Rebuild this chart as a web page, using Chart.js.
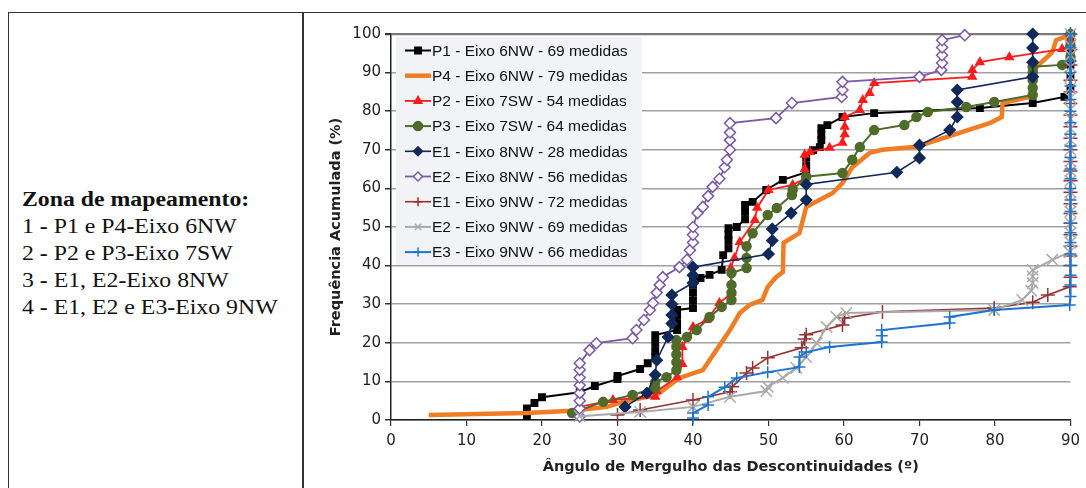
<!DOCTYPE html>
<html>
<head>
<meta charset="utf-8">
<script src="https://cdn.jsdelivr.net/npm/chart.js@4.4.0/dist/chart.umd.min.js"></script>
<style>
  html, body { margin: 0; padding: 0; background: #fff; }
  body { width: 1086px; height: 488px; position: relative; overflow: hidden; }
  .frame { position: absolute; left: 8px; top: 12px; width: 1090px; height: 490px; border-left: 1.5px solid #333; border-top: 1.5px solid #333; }
  .divider { position: absolute; left: 302px; top: 12px; width: 1.5px; height: 476px; background: #333; }
  .zona { position: absolute; left: 22px; top: 186px; font-family: "Liberation Serif", "Times New Roman", serif; font-size: 20.5px; line-height: 27px; color: #111; transform: scaleX(1.16); transform-origin: left top; white-space: nowrap; }
  .zona b { font-weight: bold; }
  #wrap { position: absolute; left: 310px; top: 14px; width: 776px; height: 474px; }
</style>
</head>
<body>
<div class="frame"></div>
<div class="divider"></div>
<div class="zona">
  <b>Zona de mapeamento:</b><br>
  1 <b>-</b> P1 e P4<b>-</b>Eixo 6NW<br>
  2 <b>-</b> P2 e P3<b>-</b>Eixo 7SW<br>
  3 <b>-</b> E1, E2<b>-</b>Eixo 8NW<br>
  4 <b>-</b> E1, E2 e E3<b>-</b>Eixo 9NW
</div>
<div id="wrap"><canvas id="chart"></canvas></div>
<script>
// values: angle (º) and cumulative frequency (%)
const p1Angle = [18, 18, 19, 20, 25, 27, 30, 30, 33, 34, 35, 35, 35, 35, 37.9, 37.9, 37.9, 37.9, 40, 40, 40, 40, 40, 41, 42.2, 43.8, 44, 44.7, 44.7, 44.7, 44.7, 45.8, 46.9, 46.9, 46.9, 47.9, 49.7, 51.9, 55, 55, 55, 55.9, 56.8, 57, 57, 57, 57.8, 59.8, 64, 78, 85, 89.2, 90, 90, 90, 90, 90, 90];
const p1Freq = [1, 3, 4.4, 5.9, 7.2, 8.8, 10.6, 11.4, 13.2, 14.7, 16.3, 18, 20, 22, 23.3, 25, 27, 28.5, 29, 31, 33, 35, 36.3, 36.8, 37.6, 38.9, 42.7, 44.5, 46.5, 48, 49.7, 50, 52, 54, 55.7, 56.5, 59.6, 62.2, 64.2, 66, 68.1, 69.9, 70.7, 72.5, 74, 75.6, 76.4, 78.5, 79.5, 80.8, 82.1, 83.7, 86, 89, 92, 95, 98, 100];

const p4Angle = [5, 18, 24, 28.6, 30.7, 35.2, 38.2, 41.3, 43.1, 44.9, 46.2, 47.5, 49.2, 49.9, 51, 51.9, 52, 54.1, 55, 58.5, 59.8, 61.1, 63.4, 65.1, 69.6, 75.3, 79.3, 80.9, 81, 84.6, 85.5, 87.6, 88.1, 89.2, 90];
const p4Freq = [1.3, 1.8, 2.4, 3.4, 4.7, 6.5, 10.9, 12.9, 18.1, 23.3, 27.7, 29.8, 31.1, 34.5, 37, 38.3, 45.9, 48.4, 55.2, 58.8, 61.4, 65.5, 69.2, 70, 70.8, 74.4, 76.9, 78.5, 82.1, 83.7, 91.5, 95.3, 98.4, 99.2, 100];

const p2Angle = [25, 29.4, 35, 35.2, 37.9, 38.6, 38.6, 40, 41.8, 43.5, 45.1, 45, 45.5, 46.2, 48.2, 48.5, 50, 53.2, 54.8, 54.8, 54.8, 55.5, 58.1, 59.8, 60.1, 60.1, 60.1, 62.1, 62.5, 63.4, 64, 77, 77, 78, 81.9, 88.9, 90, 90, 90];
const p2Freq = [3.4, 5.2, 6, 7.5, 11.1, 14.5, 18.9, 24.1, 25.9, 30.3, 32.9, 39.4, 42, 46.1, 51.8, 55, 59.6, 60.9, 62.5, 65, 68.7, 69.4, 70.5, 71.8, 74, 76, 78.5, 80.3, 82.9, 84.7, 87.3, 88.9, 90.7, 92.7, 94, 96.1, 97, 98.5, 100];

const p3Angle = [24, 28.1, 32, 35, 35, 36.5, 37.8, 37.8, 37.8, 37.8, 37.8, 39.2, 40.5, 42.2, 43.8, 45.1, 45.1, 45.1, 45.1, 47.1, 47.1, 47.1, 47.9, 49.9, 51.1, 53.1, 53.2, 55, 59.8, 61.1, 62.1, 64, 68, 69.6, 71.1, 76.2, 79.9, 85, 85, 85, 85, 85, 88.9, 90, 90, 90];
const p3Freq = [1.8, 4.7, 6.5, 8.3, 9.8, 11.1, 12.9, 15, 17, 19, 20.7, 21.5, 23.3, 26.7, 29.3, 31.1, 33, 35, 38.1, 39.4, 42, 45, 48.4, 53.1, 54.9, 58.3, 59.6, 63, 64, 67.4, 70.7, 75.1, 76.4, 78.5, 79.8, 81.1, 82.4, 84.2, 86, 88, 90, 91.5, 92, 94, 97, 100];

const e18Angle = [31, 33.9, 35, 35.2, 36.7, 37.2, 37.2, 37.2, 37.2, 40, 40, 40, 50, 50.5, 50.5, 53, 55, 55, 67, 70, 70, 74, 75, 75, 75, 85, 85, 85, 85];
const e18Freq = [3.4, 7, 11.7, 15.5, 21.5, 25, 27.2, 30, 32.4, 35.5, 37.5, 39.6, 43, 46.5, 49.5, 53.6, 57, 61, 64.2, 67.9, 71.2, 75.1, 78.5, 82.4, 85.5, 88.9, 92.7, 96.4, 100];

const e28Angle = [25, 25, 25, 25, 25, 25, 25, 25, 26.3, 27.2, 32, 32.5, 33.5, 34.3, 34.7, 35.2, 35.6, 36, 38.2, 39.2, 39.6, 40, 40, 40, 40.6, 41.3, 42, 42.6, 43.5, 44.2, 44.5, 44.9, 44.9, 44.9, 44.9, 51, 53.1, 59.7, 59.8, 59.8, 70, 72.9, 73, 73, 73, 73, 76];
const e28Freq = [0.9, 3, 5, 7, 9, 11, 13, 14.7, 18.1, 19.9, 21.2, 23.3, 25.9, 28.5, 30.3, 33, 35, 37, 39.6, 41.5, 44, 46, 48, 50, 53.6, 55.2, 58, 60.4, 62.5, 65.5, 67.4, 70, 72.5, 74.5, 76.9, 78.2, 82.1, 83.7, 85.5, 87.6, 88.9, 90.7, 92.5, 94.5, 96.5, 98.4, 99.7];

const e19Angle = [30, 33, 40, 44.9, 45.2, 47.1, 47.9, 49.9, 54.4, 54.8, 55, 59.8, 60.1, 65.1, 79.9, 85, 87, 89.9, 90, 90, 90, 90, 90, 90, 90, 90, 90, 90, 90, 90, 90, 90, 90, 90, 90, 90, 90, 90, 90, 90];
const e19Freq = [1.3, 2.6, 5.2, 7.3, 8.6, 12.2, 13.5, 16.1, 18.7, 21, 22.1, 24.6, 26.4, 28, 29, 30.5, 32.4, 34.5, 37, 40, 42.5, 45, 48, 51, 53.5, 56, 59, 62, 64.5, 67, 70, 73, 76, 79, 82, 85, 88, 92, 96, 100];

const e29Angle = [25, 33, 40, 44.9, 49.7, 49.9, 51.9, 53.7, 55, 56.4, 57.7, 59, 60.3, 79.9, 83.6, 84.8, 85, 85, 85, 87.6, 89.9, 90, 90, 90, 90, 90, 90, 90, 90, 90, 90, 90, 90, 90, 90, 90, 90, 90, 90, 90, 90, 90];
const e29Freq = [1, 2.1, 3.4, 6, 7.5, 8.6, 10.9, 13.5, 16.3, 19.9, 24.1, 26.7, 27.7, 28.5, 31.1, 33.5, 35.5, 37.2, 38.9, 41.5, 43.5, 46, 48.5, 51, 54, 56.5, 59, 62, 64.5, 67, 70, 72.5, 75.5, 78, 80.5, 83.5, 86, 89, 91.5, 94.5, 97, 100];

const e39Angle = [40, 40, 42, 42, 44.2, 45.8, 49.9, 54.1, 54.1, 55, 58.1, 65, 65, 65, 74, 74, 79.9, 89.9, 90, 90, 90, 90, 90, 90, 90, 90, 90, 90, 90, 90, 90, 90, 90, 90, 90, 90, 90, 90, 90, 90, 90, 90];
const e39Freq = [0.5, 1.8, 3.9, 6, 8.5, 10.9, 12.4, 13.7, 16.3, 17.6, 18.9, 20.2, 21.8, 23.3, 25.1, 26.7, 28.5, 29.8, 32, 35, 37.5, 40, 43, 46, 48.5, 51, 54, 57, 60, 62.5, 65, 68, 71, 74, 77, 80, 83, 86.5, 90, 93, 96.5, 100];

const seriesNames = [
  "P1 - Eixo 6NW - 69 medidas",
  "P4 - Eixo 6NW - 79 medidas",
  "P2 - Eixo 7SW - 54 medidas",
  "P3 - Eixo 7SW - 64 medidas",
  "E1 - Eixo 8NW - 28 medidas",
  "E2 - Eixo 8NW - 56 medidas",
  "E1 - Eixo 9NW - 72 medidas",
  "E2 - Eixo 9NW - 69 medidas",
  "E3 - Eixo 9NW - 66 medidas"
];
const xTicks = [0, 10, 20, 30, 40, 50, 60, 70, 80, 90];
const yTicks = [0, 10, 20, 30, 40, 50, 60, 70, 80, 90, 100];

function pts(a, f) {
  return a.map((x, i) => ({ x: x, y: f[i] }));
}

const styles = [
  { data: pts(p1Angle, p1Freq), color: "#000000", width: 2, style: "rect", r: 4.5, fill: "#000000" },
  { data: pts(p4Angle, p4Freq), color: "#f07c24", width: 4.5, style: "circle", r: 0, fill: "#f07c24" },
  { data: pts(p2Angle, p2Freq), color: "#ff1c1c", width: 1.8, style: "triangle", r: 4.5, fill: "#ff1c1c" },
  { data: pts(p3Angle, p3Freq), color: "#4f6b2a", width: 2, style: "circle", r: 4.5, fill: "#4f6b2a" },
  { data: pts(e18Angle, e18Freq), color: "#10285a", width: 1.6, style: "rectRot", r: 5.5, fill: "#10285a" },
  { data: pts(e28Angle, e28Freq), color: "#7a5aa8", width: 1.8, style: "rectRot", r: 5.5, fill: "#ffffff" },
  { data: pts(e19Angle, e19Freq), color: "#953234", width: 1.6, style: "cross", r: 7, fill: "#953234" },
  { data: pts(e29Angle, e29Freq), color: "#aaaaaa", width: 2, style: "crossRot", r: 8, fill: "#aaaaaa" },
  { data: pts(e39Angle, e39Freq), color: "#1f74cc", width: 2, style: "cross", r: 6, fill: "#1f74cc" }
];

const datasets = styles.map((s, i) => ({
  label: seriesNames[i],
  data: s.data,
  showLine: true,
  clip: 12,
  borderColor: s.color,
  borderWidth: s.width,
  pointStyle: s.style,
  pointRadius: s.r,
  pointBackgroundColor: s.fill,
  pointBorderColor: s.color,
  pointBorderWidth: 1.5,
  tension: 0,
  order: styles.length - i
}));

// legend box drawn inside the plot, as in the original spreadsheet chart
const boxLegend = {
  id: "boxLegend",
  afterDatasetsDraw(chart) {
    const ctx = chart.ctx;
    ctx.save();
    ctx.fillStyle = "#f2f3f6";
    ctx.fillRect(86, 23, 246, 228);
    chart.data.datasets.forEach((ds, i) => {
      const y = 36.5 + i * 25.2;
      ctx.strokeStyle = ds.borderColor;
      ctx.lineWidth = ds.borderWidth;
      ctx.beginPath();
      ctx.moveTo(95, y);
      ctx.lineTo(121, y);
      ctx.stroke();
      if (ds.pointRadius > 0 && Chart.helpers && Chart.helpers.drawPoint) {
        ctx.fillStyle = ds.pointBackgroundColor;
        ctx.strokeStyle = ds.pointBorderColor;
        ctx.lineWidth = ds.pointBorderWidth;
        Chart.helpers.drawPoint(ctx, {
          pointStyle: ds.pointStyle,
          radius: Math.min(ds.pointRadius, 4.5),
          borderWidth: ds.pointBorderWidth,
          rotation: 0
        }, 108, y);
      }
      ctx.fillStyle = "#111";
      ctx.font = '15.5px "Liberation Sans", Arial, sans-serif';
      ctx.textBaseline = "middle";
      ctx.fillText(ds.label, 122, y + 1);
    });
    ctx.restore();
  }
};

new Chart(document.getElementById("chart"), {
  type: "scatter",
  data: { datasets: datasets },
  plugins: [boxLegend],
  options: {
    responsive: true,
    maintainAspectRatio: false,
    animation: false,
    layout: { padding: { top: 20, right: 15, left: 0, bottom: 0 } },
    plugins: { legend: { display: false }, tooltip: { enabled: false } },
    scales: {
      x: {
        type: "linear",
        min: 0,
        max: 90,
        afterFit(scale) { scale.height = 68; },
        afterBuildTicks(scale) { scale.ticks = xTicks.map(v => ({ value: v })); },
        ticks: { color: "#222", padding: 6, font: { family: '"DejaVu Sans", Arial', size: 15 } },
        grid: { drawOnChartArea: false, drawTicks: true, tickLength: 6, color: "#333", lineWidth: 1.2 },
        border: { color: "#222", width: 1.5 },
        title: {
          display: true,
          text: "Ângulo de Mergulho das Descontinuidades (º)",
          color: "#222",
          font: { family: '"DejaVu Sans", Arial', size: 14.5, weight: "bold" },
          padding: { top: 0, bottom: 12 }
        }
      },
      y: {
        type: "linear",
        min: 0,
        max: 100,
        afterFit(scale) { scale.width = 81; },
        afterBuildTicks(scale) { scale.ticks = yTicks.map(v => ({ value: v })); },
        ticks: { color: "#222", padding: 4, font: { family: '"DejaVu Sans", Arial', size: 15 } },
        grid: {
          color: c => (c.tick && c.tick.value === 100 ? "#7a7a7a" : "#a0a0a0"),
          lineWidth: c => (c.tick && c.tick.value === 100 ? 2.2 : 1.5),
          tickLength: 6,
          tickColor: "#333"
        },
        border: { color: "#222", width: 1.5 },
        title: {
          display: true,
          text: "Frequência Acumulada (%)",
          color: "#222",
          font: { family: '"DejaVu Sans", Arial', size: 14.5, weight: "bold" },
          padding: { top: 18, bottom: 0 }
        }
      }
    }
  }
});
</script>
</body>
</html>
